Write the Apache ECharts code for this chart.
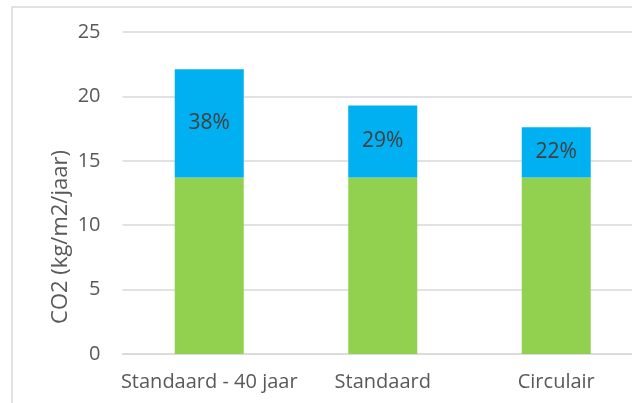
<!DOCTYPE html>
<html>
<head>
<meta charset="utf-8">
<script src="https://cdn.jsdelivr.net/npm/echarts@6/dist/echarts.min.js"></script>
<style>
  html, body { margin: 0; padding: 0; background: #ffffff; }
  #chart { width: 632px; height: 403px; }
</style>
</head>
<body>
<div id="chart"></div>
<script>
// CO2 per m2 per year for three building variants
const categories = ['Standaard - 40 jaar', 'Standaard', 'Circulair'];
const baseValues = [13.7, 13.7, 13.7];   // green part
const extraValues = [8.4, 5.6, 3.9];     // blue part on top
const yTicks = { min: 0, max: 25, interval: 5 };
const axisTitle = 'CO2 (kg/m2/jaar)';

// share of the blue part in each bar's total, shown inside the blue part
const shareLabels = extraValues.map((v, i) =>
  Math.round(100 * v / (v + baseValues[i])) + '%');

const font = '"Open Sans", "DejaVu Sans", sans-serif';
const chart = echarts.init(document.getElementById('chart'));

chart.setOption({
  animation: false,
  backgroundColor: '#ffffff',
  // plot area runs a little past the right edge of the canvas
  grid: {
    left: 122.5,
    width: 520.5,
    top: 32,
    bottom: 49,
    containLabel: false,
    outerBoundsMode: 'none'
  },
  xAxis: {
    type: 'category',
    data: categories,
    axisLine: { lineStyle: { color: '#d9d9d9', width: 1.5 } },
    axisTick: { show: false },
    axisLabel: {
      interval: 0,
      color: '#595959',
      fontFamily: font,
      fontSize: 20,
      margin: 18
    }
  },
  yAxis: {
    type: 'value',
    min: yTicks.min,
    max: yTicks.max,
    interval: yTicks.interval,
    axisLine: { show: false },
    axisTick: { show: false },
    splitLine: { lineStyle: { color: '#d9d9d9', width: 1.5 } },
    axisLabel: { color: '#595959', fontFamily: font, fontSize: 20, margin: 22 }
  },
  graphic: [
    {
      type: 'rect',
      shape: { x: 12, y: 7, width: 700, height: 500 },
      style: { fill: 'none', stroke: '#d9d9d9', lineWidth: 1.5 },
      silent: true
    },
    {
      type: 'text',
      x: 61,
      y: 237,
      rotation: Math.PI / 2,
      style: {
        text: axisTitle,
        fill: '#595959',
        font: '22px ' + font,
        textAlign: 'center',
        textVerticalAlign: 'middle'
      }
    }
  ],
  series: [
    {
      type: 'bar',
      stack: 'co2',
      data: baseValues,
      barWidth: 69,
      itemStyle: { color: '#92d050' }
    },
    {
      type: 'bar',
      stack: 'co2',
      data: extraValues,
      barWidth: 69,
      itemStyle: { color: '#00b0f0' },
      label: {
        show: true,
        position: 'inside',
        color: '#404040',
        fontFamily: font,
        fontSize: 21,
        formatter: p => shareLabels[p.dataIndex]
      }
    }
  ]
});
</script>
</body>
</html>
